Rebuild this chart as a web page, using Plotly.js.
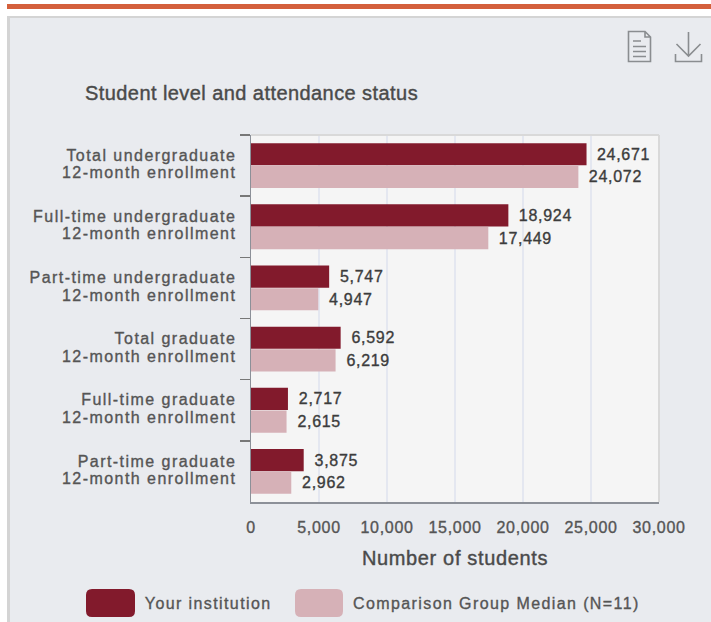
<!DOCTYPE html>
<html>
<head>
<meta charset="utf-8">
<script src="https://cdn.plot.ly/plotly-3.0.1.min.js"></script>
<style>
html,body{margin:0;padding:0;background:#fff;width:711px;height:622px;overflow:hidden}
#band{position:absolute;left:7px;top:4px;width:704px;height:5px;background:#d4603c}
#panel{position:absolute;left:7px;top:16px;width:704px;height:606px;box-sizing:border-box;background:#e9ebef;border-left:3px solid #d4d4d4;border-top:2px solid #d4d4d4}
#chart{position:absolute;left:0;top:0;width:711px;height:622px}
#icons{position:absolute;left:0;top:0}
#chart .ytick text{letter-spacing:1.45px;stroke:#555;stroke-width:.35px}
#chart .xtick text{letter-spacing:.7px;stroke:#555;stroke-width:.35px}
#chart .bars text{letter-spacing:.7px;stroke:#3c3c3c;stroke-width:.35px}
#chart .annotation text{letter-spacing:1.4px;stroke:#555;stroke-width:.35px}
#chart .gtitle{letter-spacing:.43px;stroke:#4a4a4a;stroke-width:.4px}
#chart .xtitle{letter-spacing:.65px;stroke:#4a4a4a;stroke-width:.4px}
</style>
</head>
<body>
<div id="band"></div>
<div id="panel"></div>
<svg id="icons" width="711" height="622" fill="none" stroke="#8a8d90" stroke-width="1.6">
  <path d="M628.5 31.5H645L650.5 37V61.5H628.5Z M645 31.5V37H650.5"/>
  <path d="M633 41H641 M633 46.5H646 M633 51.5H646 M633 56.5H646"/>
  <path d="M688.5 32V56 M676.5 44L688.5 56L700.5 44"/>
  <path d="M675.5 54V61.5H701.5V54"/>
</svg>
<div id="chart"></div>
<script>
const categories = [
  "Total undergraduate<br>12-month enrollment",
  "Full-time undergraduate<br>12-month enrollment",
  "Part-time undergraduate<br>12-month enrollment",
  "Total graduate<br>12-month enrollment",
  "Full-time graduate<br>12-month enrollment",
  "Part-time graduate<br>12-month enrollment"
];
const institutionValues = [24671, 18924, 5747, 6592, 2717, 3875];
const comparisonValues = [24072, 17449, 4947, 6219, 2615, 2962];
const institutionName = "Your institution";
const comparisonName = "Comparison Group Median (N=11)";
const xTicks = [0, 5000, 10000, 15000, 20000, 25000, 30000];
const chartTitle = "Student level and attendance status";
const xTitle = "Number of students";
const dark = "#821a2c", light = "#d6b1b7";

const W = 711, H = 622, M = {l: 251, r: 52, t: 135, b: 120};
const px = x => (x - M.l) / (W - M.l - M.r);
const py = y => 1 - (y - M.t) / (H - M.t - M.b);
const font = "'Liberation Sans', Arial, sans-serif";

function swatch(x0, x1, y0, y1, r, color) {
  const X0 = px(x0), X1 = px(x1), Y0 = py(y0), Y1 = py(y1);
  const rx = r / (W - M.l - M.r), ry = r / (H - M.t - M.b);
  return {type: "path", xref: "paper", yref: "paper", fillcolor: color, line: {width: 0},
    path: `M${X0 + rx},${Y0} L${X1 - rx},${Y0} Q${X1},${Y0} ${X1},${Y0 - ry} L${X1},${Y1 + ry} Q${X1},${Y1} ${X1 - rx},${Y1} L${X0 + rx},${Y1} Q${X0},${Y1} ${X0},${Y1 + ry} L${X0},${Y0 - ry} Q${X0},${Y0} ${X0 + rx},${Y0} Z`};
}
const labelTemplate = "\u00a0\u00a0%{x:,}";
const common = {type: "bar", orientation: "h", y: categories, textposition: "outside", cliponaxis: false,
  texttemplate: labelTemplate, textangle: 0, textfont: {family: font, size: 16, color: "#3c3c3c"}, hoverinfo: "x+y"};
const traces = [
  Object.assign({}, common, {name: institutionName, x: institutionValues, marker: {color: dark}}),
  Object.assign({}, common, {name: comparisonName, x: comparisonValues, marker: {color: light}})
];
const legendText = (x, t) => ({xref: "paper", yref: "paper", x: px(x), y: py(603), xanchor: "left", yanchor: "middle",
  text: t, showarrow: false, font: {family: font, size: 16, color: "#555"}});
const layout = {
  width: W, height: H, margin: M, autosize: false, showlegend: false,
  paper_bgcolor: "rgba(0,0,0,0)", plot_bgcolor: "#f5f5f5",
  barmode: "group", bargap: 0.26, bargroupgap: 0.02,
  title: {text: chartTitle, x: 85 / W, xref: "container", xanchor: "left", y: 1 - 93 / H, yref: "container", yanchor: "middle",
    font: {family: font, size: 20, color: "#4a4a4a"}},
  xaxis: {range: [0, 30000], tickvals: xTicks, tickformat: ",", ticks: "", showgrid: true, gridcolor: "#e4e7f0", gridwidth: 2,
    zeroline: false, showline: true, linecolor: "#8c9098", linewidth: 2, ticklabelstandoff: 10,
    tickfont: {family: font, size: 16, color: "#555"},
    title: {text: xTitle, standoff: 16, font: {family: font, size: 20, color: "#4a4a4a"}}},
  yaxis: {type: "category", autorange: "reversed", tickson: "boundaries", ticks: "outside", ticklen: 10, tickwidth: 1.5, tickcolor: "#777",
    showgrid: false, zeroline: false, showline: true, linecolor: "#8c9098", linewidth: 1.5, ticklabelstandoff: 10,
    tickfont: {family: font, size: 16, color: "#555"}},
  shapes: [
    {type: "line", xref: "paper", yref: "paper", x0: 0, x1: 1, y0: 1, y1: 1, line: {color: "#d9d9d9", width: 2}},
    {type: "line", xref: "paper", yref: "paper", x0: 1, x1: 1, y0: 0, y1: 1, line: {color: "#d9d9d9", width: 2}},
    swatch(86, 135, 589, 617, 6, dark),
    swatch(295, 343, 589, 617, 6, light)
  ],
  annotations: [legendText(154, institutionName), legendText(372, comparisonName)]
};
Plotly.newPlot("chart", traces, layout, {displayModeBar: false, staticPlot: true}).then(() => {
  document.querySelectorAll("#chart .ytick tspan.line").forEach(t => {
    if (t.getAttribute("dy") && parseFloat(t.getAttribute("dy")) !== 0) t.setAttribute("dy", "17.5px");
  });
});
</script>
</body>
</html>
